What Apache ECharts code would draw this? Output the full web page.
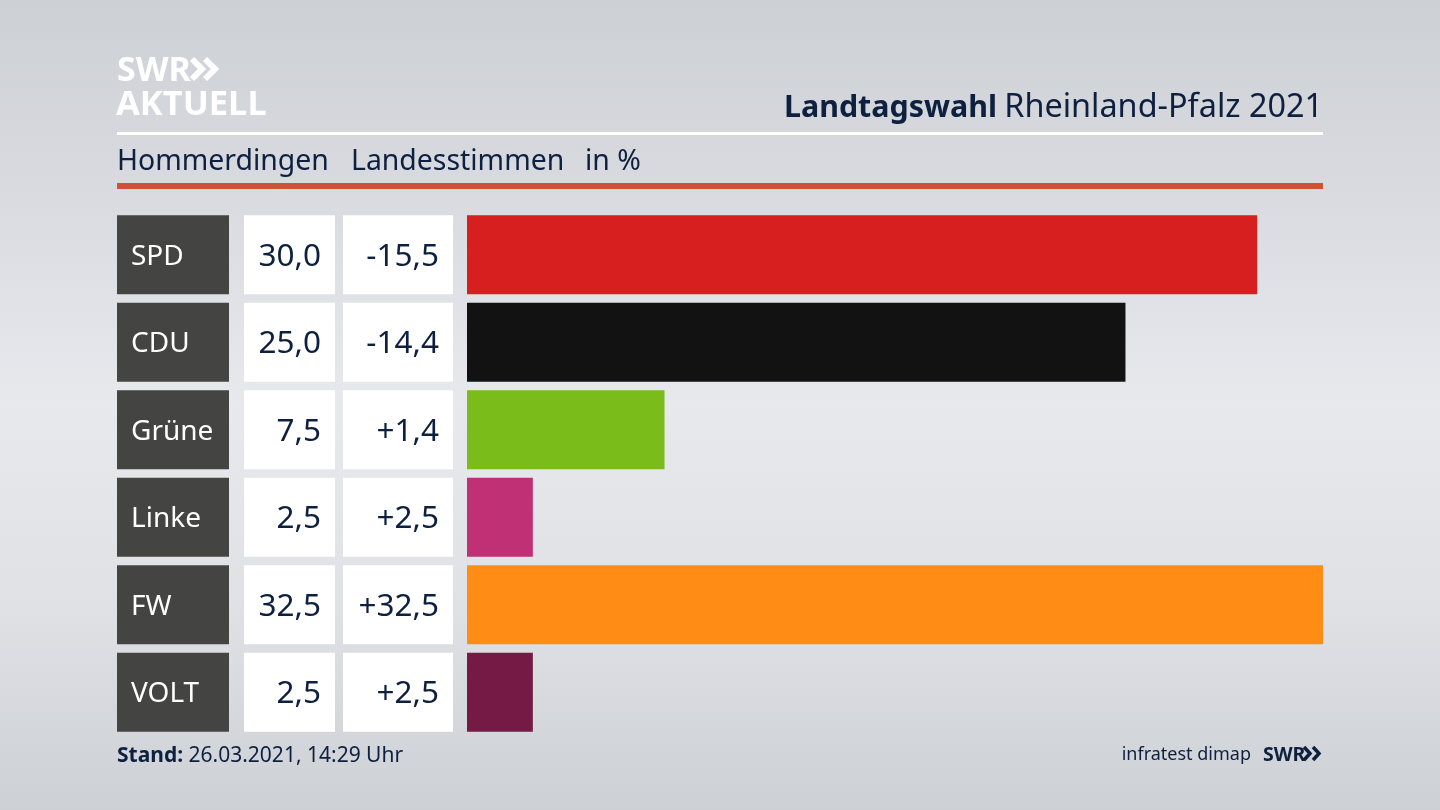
<!DOCTYPE html>
<html>
<head>
<meta charset="utf-8">
<title>Landtagswahl Rheinland-Pfalz 2021</title>
<style>
    html, body {margin: 0; padding: 0; background: #dfe1e6;}
    #main {width: 1440px; height: 810px;}
</style>
<script src="https://cdn.jsdelivr.net/npm/echarts@6/dist/echarts.min.js"></script>
</head>
<body>
<div id="main"></div>
<script>
var parties = ['SPD', 'CDU', 'Grüne', 'Linke', 'FW', 'VOLT'];
var shares = [30.0, 25.0, 7.5, 2.5, 32.5, 2.5];
var changes = [-15.5, -14.4, 1.4, 2.5, 32.5, 2.5];
var partyColors = ['#d71f1f', '#121212', '#7abd1a', '#bf3074', '#ff8c14', '#741a45'];

var FONT = '"Noto Sans", sans-serif';
var NAVY = '#0d2040';

// deutsches Komma
function fmt(v) {
    return Math.abs(v).toFixed(1).replace('.', ',');
}
function fmtChange(v) {
    return (v < 0 ? '-' : '+') + fmt(v);
}

// one grid per table column, all with the same row bands
var columns = [
    {left: 117, width: 112},
    {left: 244, width: 91},
    {left: 343, width: 110},
    {left: 467, width: 856}
];
var grids = [], xAxes = [], yAxes = [];
columns.forEach(function (c, i) {
    grids.push({left: c.left, width: c.width, top: 211, height: 525});
    xAxes.push({gridIndex: i, type: 'value', min: 0, max: i === 3 ? 32.5 : 1, show: false});
    yAxes.push({gridIndex: i, type: 'category', data: parties, inverse: true, show: false});
});

function cellSeries(idx, color, textColor, formatter, position, size) {
    return {
        type: 'bar',
        xAxisIndex: idx,
        yAxisIndex: idx,
        barWidth: 79,
        silent: true,
        data: parties.map(function () { return 1; }),
        itemStyle: {color: color},
        label: {
            show: true,
            position: position,
            distance: 14,
            offset: [0, 2],
            color: textColor,
            fontFamily: FONT,
            fontSize: size,
            formatter: formatter
        }
    };
}

// logo arrows
function chevron(x, y, w, h, color, lw) {
    return {
        type: 'polyline',
        silent: true,
        shape: {points: [[x, y], [x + w, y + h / 2], [x, y + h]]},
        style: {stroke: color, lineWidth: lw, fill: null}
    };
}

var option = {
    animation: false,
    backgroundColor: {
        type: 'linear', x: 0, y: 0, x2: 0, y2: 1,
        colorStops: [
            {offset: 0, color: '#cdd0d5'},
            {offset: 0.25, color: '#d9dbe0'},
            {offset: 0.5, color: '#e8e9ed'},
            {offset: 0.75, color: '#dfe1e5'},
            {offset: 1, color: '#cdd0d4'}
        ]
    },
    grid: grids,
    xAxis: xAxes,
    yAxis: yAxes,
    series: [
        cellSeries(0, '#444542', '#ffffff', function (p) { return parties[p.dataIndex]; }, 'insideLeft', 28),
        cellSeries(1, '#ffffff', NAVY, function (p) { return fmt(shares[p.dataIndex]); }, 'insideRight', 31.5),
        cellSeries(2, '#ffffff', NAVY, function (p) { return fmtChange(changes[p.dataIndex]); }, 'insideRight', 31.5),
        {
            type: 'bar',
            xAxisIndex: 3,
            yAxisIndex: 3,
            barWidth: 79,
            silent: true,
            data: shares.map(function (v, i) {
                return {value: v, itemStyle: {color: partyColors[i]}};
            })
        }
    ],
    graphic: [
        {type: 'rect', silent: true, shape: {x: 117, y: 132, width: 1206, height: 3}, style: {fill: '#ffffff'}},
        {type: 'rect', silent: true, shape: {x: 117, y: 183, width: 1206, height: 6}, style: {fill: '#cf5238'}},
        {type: 'text', silent: true, x: 117, y: 71, style: {text: 'SWR', fill: '#ffffff', font: 'bold 34px ' + FONT, verticalAlign: 'middle'}},
        chevron(192, 59, 10, 20, '#ffffff', 6),
        chevron(205, 59, 10, 20, '#ffffff', 6),
        {type: 'text', silent: true, x: 116, y: 105, style: {text: 'AKTUELL', fill: '#ffffff', font: 'bold 34.5px ' + FONT, verticalAlign: 'middle'}},
        {type: 'text', silent: true, x: 997, y: 108, style: {text: 'Landtagswahl', align: 'right', verticalAlign: 'middle', fill: NAVY, font: 'bold 30.4px ' + FONT}},
        {type: 'text', silent: true, x: 1323, y: 108, style: {text: 'Rheinland-Pfalz 2021', align: 'right', verticalAlign: 'middle', fill: NAVY, font: '32.4px ' + FONT}},
        {type: 'text', silent: true, x: 117, y: 162, style: {text: 'Hommerdingen', fill: NAVY, font: '28.4px ' + FONT, verticalAlign: 'middle'}},
        {type: 'text', silent: true, x: 351, y: 162, style: {text: 'Landesstimmen', fill: NAVY, font: '28.4px ' + FONT, verticalAlign: 'middle'}},
        {type: 'text', silent: true, x: 585, y: 162, style: {text: 'in %', fill: NAVY, font: '28.4px ' + FONT, verticalAlign: 'middle'}},
        {
            type: 'text', silent: true, x: 117, y: 756,
            style: {
                text: '{b|Stand:} 26.03.2021, 14:29 Uhr',
                verticalAlign: 'middle',
                fill: NAVY,
                font: '21px ' + FONT,
                rich: {b: {font: 'bold 21px ' + FONT, fill: NAVY}}
            }
        },
        {type: 'text', silent: true, x: 1251, y: 755, style: {text: 'infratest dimap', align: 'right', fill: NAVY, font: '18px ' + FONT, verticalAlign: 'middle'}},
        {type: 'text', silent: true, x: 1263, y: 755, style: {text: 'SWR', fill: NAVY, font: 'bold 19.5px ' + FONT, verticalAlign: 'middle'}},
        chevron(1304, 747, 6, 13, NAVY, 3.5),
        chevron(1313, 747, 6, 13, NAVY, 3.5)
    ]
};

var chart = echarts.init(document.getElementById('main'));
chart.setOption(option);
</script>
</body>
</html>
